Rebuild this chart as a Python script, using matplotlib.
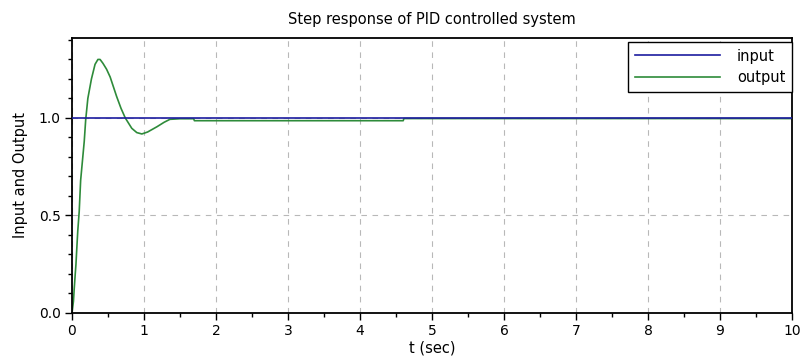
import matplotlib
matplotlib.use("Agg")
import matplotlib.pyplot as plt
from matplotlib.ticker import MultipleLocator, FormatStrFormatter

title = "Step response of PID controlled system"
xlabel = "t (sec)"
ylabel = "Input and Output"

t_input = [0.0, 10.0]
v_input = [1.0, 1.0]

t_output = [0.0, 0.02, 0.03, 0.045, 0.055, 0.065, 0.08, 0.10, 0.12, 0.15, 0.17, 0.19,
            0.22, 0.27, 0.32, 0.36, 0.39, 0.43, 0.48, 0.53, 0.62, 0.68, 0.74, 0.83,
            0.90, 0.97, 1.05, 1.18, 1.28, 1.36, 1.50, 1.69, 1.70, 4.60, 4.61, 10.0]
v_output = [0.0, 0.06, 0.12, 0.2, 0.25, 0.32, 0.42, 0.52, 0.68, 0.80, 0.88, 0.99,
            1.10, 1.20, 1.275, 1.30, 1.30, 1.28, 1.25, 1.21, 1.11, 1.05, 1.00, 0.947,
            0.925, 0.918, 0.928, 0.955, 0.978, 0.993, 0.996, 0.996, 0.986, 0.986, 0.997, 0.997]

fs = 10.5

fig = plt.figure(figsize=(8.04, 3.6), dpi=100)
ax = fig.add_axes([72/804, 1-313/360, 720/804, 275/360])

ax.plot(t_output, v_output, color="#2e8b3a", lw=1.2, zorder=2, label="output")
ax.plot(t_input, v_input, color="#1c1ca0", lw=1.2, zorder=3, label="input")

ax.set_xlim(0, 10)
ax.set_ylim(0, 1.41)
ax.xaxis.set_major_locator(MultipleLocator(1))
ax.xaxis.set_minor_locator(MultipleLocator(0.5))
ax.yaxis.set_major_locator(MultipleLocator(0.5))
ax.yaxis.set_minor_locator(MultipleLocator(0.1))
ax.tick_params(which="major", length=5, width=1, labelsize=10, colors="black", pad=3)
ax.tick_params(which="minor", length=3, width=1)
ax.yaxis.set_major_formatter(FormatStrFormatter("%.1f"))

ax.grid(True, which="major", linestyle=(0, (5, 5)), color="#b8b8b8", lw=0.8)
for s in ax.spines.values():
    s.set_linewidth(1.3)

ax.set_title(title, fontsize=fs, pad=10)
ax.set_xlabel(xlabel, fontsize=fs, labelpad=2)
ax.set_ylabel(ylabel, fontsize=fs, labelpad=8)

h, l = ax.get_legend_handles_labels()
leg = ax.legend([h[1], h[0]], [l[1], l[0]], loc="upper right",
                bbox_to_anchor=(1.0, 1 - 4/275), borderaxespad=0,
                fontsize=fs, fancybox=False, framealpha=1, edgecolor="black",
                handlelength=5.8, borderpad=0.45, labelspacing=0.45, handletextpad=1.2)
leg.get_frame().set_linewidth(1.0)

fig.savefig("out.png", dpi=100)
